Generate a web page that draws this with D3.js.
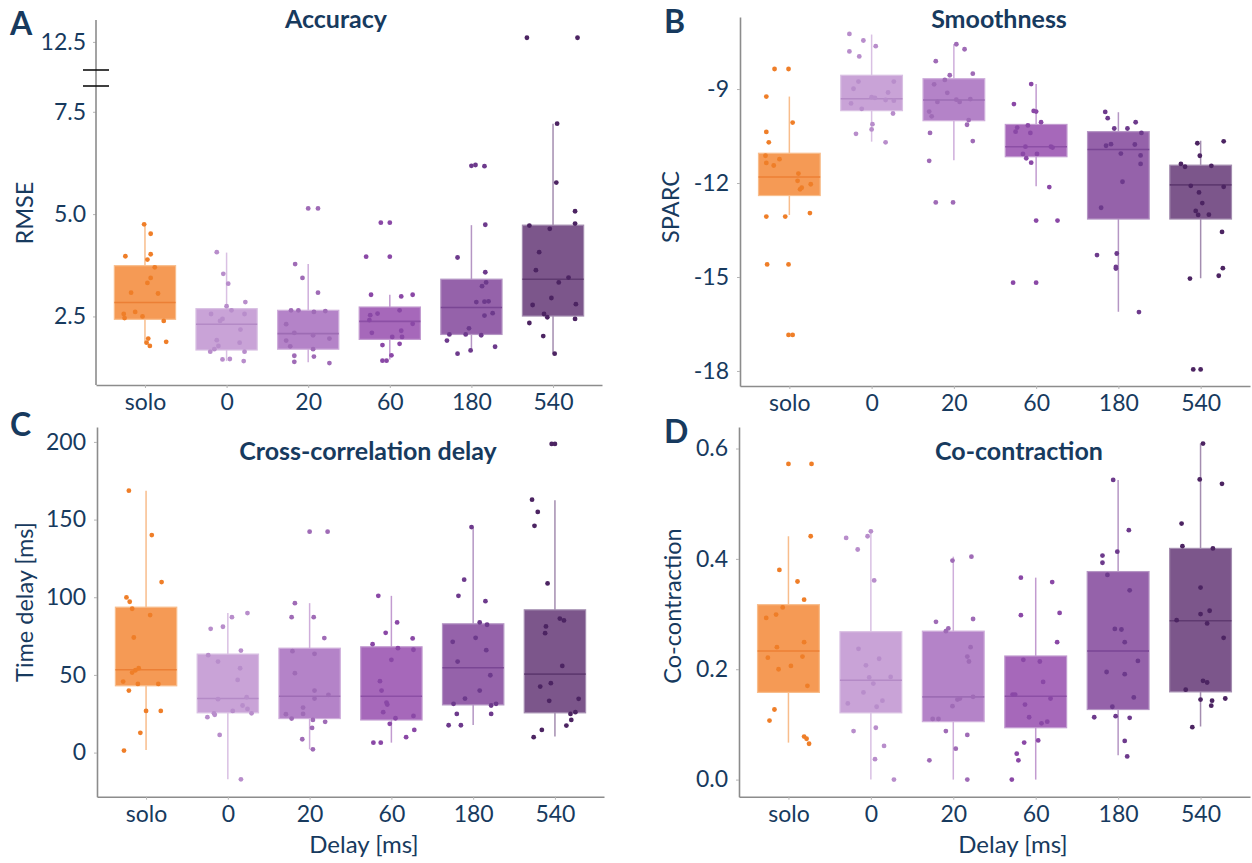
<!DOCTYPE html>
<html>
<head>
<meta charset="utf-8">
<script src="https://cdn.jsdelivr.net/npm/d3@7"></script>
<style>
  body { margin: 0; background: #fff; }
  text { font-family: Lato, "Open Sans", sans-serif; fill: #173a5e; }
</style>
</head>
<body>
<svg id="canvas" width="1252" height="863"></svg>
<script>
const groups = ["solo", "0", "20", "60", "180", "540"];

const boxFill     = ["#f59a55", "#c9a3d7", "#b483c8", "#a668ba", "#9562aa", "#7c568b"];
const boxStroke   = ["#f8bd8c", "#d9c0e3", "#cfaedb", "#c29bd0", "#b596c4", "#a48db0"];
const medianColor = ["#ec7f35", "#b48ac6", "#9d6cb4", "#8c4fa5", "#7a4694", "#5f3a70"];
const pointColor  = ["#ef7e28", "#b88dcb", "#9f6bb6", "#8a48a6", "#6d3a8c", "#4c2462"];

// ---- A: Accuracy (RMSE) ----
const accLo  = [1.84, 1.41, 1.38, 1.45, 1.67, 1.59];
const accQ1  = [2.43, 1.68, 1.70, 1.94, 2.06, 2.51];
const accMed = [2.84, 2.31, 2.08, 2.38, 2.72, 3.41];
const accQ3  = [3.74, 2.69, 2.65, 2.73, 3.41, 4.73];
const accHi  = [4.75, 4.06, 3.78, 3.03, 4.73, 7.21];
const accPts = [
  [4.75,4.52,3.97,4.02,3.89,3.70,3.44,3.32,3.08,3.06,2.61,2.56,2.50,2.46,2.39,1.96,1.86,1.78,1.88],
  [4.07,3.54,3.30,2.75,2.85,2.56,2.65,2.56,2.44,2.39,2.18,1.92,1.78,1.86,1.70,1.64,1.64,1.45,1.46,1.41],
  [5.14,5.14,3.78,3.44,3.08,2.65,2.65,2.61,2.63,2.31,2.10,2.04,1.96,1.91,1.77,1.70,1.54,1.52,1.39,1.36],
  [4.79,4.79,3.96,3.96,3.03,2.99,3.03,2.65,2.57,2.53,2.41,2.32,2.15,2.10,2.00,2.00,1.83,1.80,1.55,1.42,1.42],
  [6.18,6.20,6.17,4.74,3.94,3.58,3.24,3.33,2.85,2.86,2.87,2.52,2.58,2.21,2.06,2.06,2.04,1.91,1.59,1.67,1.76],
  [12.6,12.6,7.21,5.77,5.07,4.72,4.64,4.77,4.07,3.63,3.45,3.33,2.95,2.78,2.80,2.56,2.48,2.44,2.34,2.02,1.59]
];
// horizontal jitter of each point, in category steps
const accJit = [
  [-0.01,0.07,-0.24,0.07,0.03,0.12,0.07,0.03,-0.17,0.16,-0.12,-0.26,-0.03,-0.25,0.23,0.04,0.02,0.06,0.26],
  [-0.12,-0.04,0.02,0,0.23,-0.19,0.06,0.22,-0.05,-0.08,0.17,-0.12,-0.10,0.16,-0.15,-0.20,0.22,-0.05,0.04,0.21],
  [0,0.12,-0.16,-0.07,0.12,-0.21,-0.12,0.07,0.21,-0.27,-0.17,0.06,0.26,-0.27,-0.22,0.06,-0.17,0.07,-0.17,0.26],
  [-0.11,0,-0.29,0,-0.23,0.14,0.28,0.12,-0.15,-0.24,-0.25,0.28,0.14,-0.22,0.03,0.15,0.12,-0.09,0.02,-0.09,-0.04],
  [0,0.05,0.16,0.17,-0.17,0.17,0.13,0.18,0.06,0.16,0.21,0.16,0.26,-0.03,-0.27,-0.07,0.12,-0.30,-0.17,-0.01,0.29],
  [-0.32,0.30,0.05,0.04,0.27,-0.29,-0.04,0.27,-0.17,-0.21,0.19,0.07,-0.02,-0.25,0.28,-0.11,-0.07,0.27,-0.29,-0.12,0.02]
];

// ---- B: Smoothness (SPARC) ----
const smLo  = [-13.02, -10.68, -11.27, -12.10, -16.11, -15.04];
const smQ1  = [-12.40, -9.69, -10.01, -11.16, -13.15, -13.15];
const smMed = [-11.81, -9.31, -9.35, -10.84, -10.93, -12.06];
const smQ3  = [-11.05, -8.56, -8.67, -10.13, -10.36, -11.43];
const smHi  = [-9.24, -7.26, -7.57, -8.84, -9.74, -10.65];
const smPts = [
  [-8.36,-8.36,-9.24,-10.07,-10.37,-10.70,-11.13,-11.36,-11.44,-11.24,-11.70,-11.93,-12.15,-12.20,-12.04,-13.07,-13.07,-12.96,-14.60,-14.60,-16.85,-16.85],
  [-7.24,-7.45,-7.63,-7.80,-7.96,-8.76,-8.99,-8.76,-9.11,-9.26,-9.28,-9.35,-9.37,-9.46,-9.63,-9.78,-10.12,-10.29,-10.43,-10.70],
  [-7.57,-7.73,-8.11,-8.56,-8.71,-8.51,-8.85,-9.12,-9.41,-9.34,-9.41,-9.32,-9.72,-9.87,-9.99,-10.14,-10.40,-10.66,-11.29,-12.62,-12.62],
  [-8.84,-9.48,-9.70,-9.72,-10.06,-10.23,-10.16,-10.36,-10.40,-10.84,-10.84,-10.87,-11.07,-11.07,-11.21,-11.35,-12.13,-13.20,-13.20,-15.18,-15.18],
  [-9.73,-9.93,-10.26,-10.26,-10.06,-10.40,-10.81,-10.76,-10.77,-11.06,-11.12,-11.39,-11.96,-12.79,-14.30,-14.25,-14.68,-14.73,-16.12],
  [-10.67,-10.73,-11.13,-11.39,-11.48,-11.45,-12.12,-12.09,-12.30,-12.64,-12.89,-13.02,-13.01,-13.56,-14.72,-14.96,-15.05,-17.95,-17.95]
];
const smJit = [
  [-0.18,-0.01,-0.28,0.04,-0.28,-0.25,-0.29,-0.28,-0.19,-0.12,0.11,0.10,0.15,0.13,0.26,-0.28,-0.05,0.25,-0.27,-0.01,-0.01,0.04],
  [-0.27,-0.10,0.05,-0.27,-0.15,-0.16,-0.22,0.27,0.20,0,0.04,0.17,0.27,-0.25,-0.12,0.26,0.01,0,-0.19,0.17],
  [0.03,0.13,-0.22,-0.05,-0.11,0.23,-0.24,-0.08,-0.20,0.03,0.07,0.20,-0.30,-0.27,0.18,0.16,-0.29,0.23,-0.30,-0.22,-0.01],
  [-0.06,-0.27,-0.03,0,0.06,-0.23,-0.10,-0.25,-0.07,-0.13,0.18,0.20,0.01,-0.16,-0.12,-0.06,0.16,0,0.26,-0.28,0],
  [-0.16,-0.13,-0.05,0.11,0.21,0.28,-0.15,-0.09,0.20,0.03,0.27,0.27,0.05,-0.21,-0.26,-0.02,-0.03,-0.03,0.25],
  [0.28,-0.04,-0.01,-0.24,-0.19,0.13,0.28,-0.12,-0.02,0.02,-0.06,-0.03,0.10,0.26,0.27,0.22,-0.13,-0.09,0]
];

// ---- C: Cross-correlation delay ----
const tdLo  = [1.7, -17.2, 2.1, 6.4, 17.8, 10.3];
const tdQ1  = [43.0, 25.6, 21.9, 21.0, 30.7, 25.6];
const tdMed = [53.3, 34.8, 36.3, 36.3, 54.6, 50.5];
const tdQ3  = [93.6, 63.4, 67.2, 68.1, 82.9, 91.9];
const tdHi  = [168.6, 89.8, 96.2, 100.9, 145.2, 162.4];
const tdPts = [
  [168.6,140.0,109.8,99.9,97.1,92.6,88.5,74.1,54.3,53.0,51.5,45.7,44.2,44.2,39.9,26.8,26.8,12.7,1.3],
  [89.8,87.2,81.0,79.7,65.7,62.7,58.6,54.3,46.8,34.4,35.7,30.3,28.1,26.8,25.3,25.3,24.3,22.8,11.4,-17.2],
  [142.2,142.2,96.2,87.2,87.2,73.7,65.3,63.6,51.1,39.9,37.2,34.8,29.0,24.7,24.9,21.9,21.0,19.8,15.9,8.6,2.1],
  [100.9,83.8,77.1,73.5,69.8,67.2,66.2,59.7,46.0,39.9,32.2,30.9,26.0,22.1,23.6,18.5,14.6,9.9,6.4,6.4],
  [145.2,111.3,100.9,97.5,83.8,82.3,71.3,73.9,65.9,58.6,49.8,39.9,34.8,31.4,30.3,31.4,24.9,24.9,17.6,17.6],
  [198.7,198.7,162.8,154.9,146.0,108.9,86.3,85.1,81.2,76.9,55.8,44.7,42.5,33.3,34.6,26.0,24.9,21.0,17.4,14.6,9.9]
];
const tdJit = [
  [-0.21,0.07,0.19,-0.24,-0.20,-0.17,0.05,-0.15,-0.09,-0.13,-0.17,-0.28,-0.10,0.15,-0.21,0,0.18,-0.07,-0.27],
  [0.24,0.05,-0.06,-0.21,0.16,-0.24,-0.12,0.15,0.12,-0.12,0.23,0.18,0.24,0.06,0.29,-0.17,-0.16,-0.25,-0.10,0.16],
  [0,0.22,-0.18,-0.22,0.05,0.18,-0.21,0.06,-0.18,0.06,0.23,0.06,-0.08,-0.29,-0.08,-0.22,0.04,0.19,0.03,-0.09,0.04],
  [-0.16,0.07,-0.07,0.26,-0.23,0.08,0.27,0,-0.14,-0.12,-0.06,-0.05,-0.10,0.05,0.27,-0.02,0.28,0.18,-0.22,-0.13],
  [-0.02,-0.11,-0.18,0.15,0.08,0.17,-0.25,0.03,0.16,-0.19,0.21,0.08,-0.10,-0.24,0.22,0.28,-0.20,0.22,-0.30,-0.15],
  [-0.04,0,-0.28,-0.21,-0.25,-0.09,0.06,0.11,-0.11,-0.12,0.09,-0.05,-0.18,-0.07,0.29,0.25,0.19,0.20,0.14,-0.16,-0.26]
];

// ---- D: Co-contraction ----
const ccLo  = [0.067, 0.0, 0.0, 0.0, 0.044, 0.096];
const ccQ1  = [0.158, 0.121, 0.105, 0.094, 0.127, 0.159];
const ccMed = [0.233, 0.180, 0.150, 0.151, 0.233, 0.288];
const ccQ3  = [0.317, 0.268, 0.269, 0.224, 0.377, 0.419];
const ccHi  = [0.441, 0.450, 0.404, 0.366, 0.543, 0.609];
const ccPts = [
  [0.572,0.572,0.441,0.380,0.359,0.326,0.312,0.299,0.293,0.249,0.240,0.221,0.223,0.206,0.200,0.170,0.127,0.107,0.078,0.074,0.065],
  [0.450,0.438,0.441,0.417,0.361,0.237,0.219,0.207,0.185,0.174,0.186,0.158,0.143,0.138,0.132,0.088,0.094,0.061,0.037,0.0],
  [0.397,0.404,0.286,0.274,0.269,0.291,0.240,0.223,0.214,0.150,0.145,0.147,0.133,0.110,0.110,0.088,0.081,0.056,0.035,0.0],
  [0.366,0.358,0.302,0.298,0.249,0.217,0.214,0.177,0.154,0.154,0.147,0.136,0.113,0.102,0.105,0.071,0.067,0.047,0.035,0.0],
  [0.543,0.452,0.406,0.413,0.393,0.371,0.343,0.273,0.272,0.249,0.215,0.195,0.191,0.149,0.132,0.113,0.115,0.112,0.070,0.042],
  [0.609,0.544,0.536,0.464,0.423,0.419,0.348,0.300,0.306,0.289,0.283,0.257,0.179,0.176,0.163,0.145,0.143,0.147,0.134,0.095]
];
const ccJit = [
  [0,0.28,0.27,-0.11,0.11,0.19,-0.07,-0.15,-0.27,0.19,-0.14,-0.25,0.17,0.03,-0.12,0.23,-0.17,-0.23,0.19,0.22,0.25],
  [0,-0.30,-0.04,-0.16,0.04,-0.15,0.10,-0.06,-0.02,0.03,0.24,-0.09,0.14,-0.28,0.07,-0.21,0.06,0.16,0.05,0.28],
  [-0.01,0.22,-0.21,-0.06,-0.09,0.24,0.21,0.17,0.19,0.24,0.05,0.08,-0.01,-0.25,-0.18,-0.09,0.17,0.03,-0.29,0.17],
  [-0.18,0.20,0.29,-0.18,0.26,-0.15,0.05,0.09,-0.28,-0.25,0.18,-0.13,-0.08,0.07,0.14,0.03,-0.14,-0.23,-0.21,-0.29],
  [-0.06,0.13,-0.19,-0.01,-0.19,-0.13,0.14,-0.04,0.04,0.08,0.24,-0.14,0.08,0.19,-0.07,-0.29,-0.03,0.14,0.08,0.11],
  [0.03,-0.01,0.26,-0.23,-0.22,0.15,0,0,0.11,-0.29,0.08,0.28,0.03,0.08,-0.18,0,0.14,0.30,0.13,-0.10]
];

const svg = d3.select("#canvas");

function styleAxis(g) {
  g.select(".domain").attr("stroke", "#8c8c8c").attr("stroke-width", 1.6);
  g.selectAll(".tick line").attr("stroke", "#b5b5b5");
  g.selectAll(".tick text").style("font-size", "23px").attr("fill", "#173a5e");
}

function drawPanel(p) {
  const g = svg.append("g");
  const x = d3.scalePoint().domain(groups).range([p.left, p.right]).padding(0.6);
  const step = x.step();
  const bw = step * 0.75;
  const y = p.y;

  const rows = groups.map((k, i) => ({
    k, i, lo: p.lo[i], q1: p.q1[i], med: p.med[i], q3: p.q3[i], hi: p.hi[i]
  }));

  // whiskers
  g.selectAll(".whisker").data(rows).enter().append("line")
    .attr("x1", d => x(d.k)).attr("x2", d => x(d.k))
    .attr("y1", d => y(d.lo)).attr("y2", d => y(d.hi))
    .attr("stroke", d => boxStroke[d.i]).attr("stroke-width", 1.5);

  // boxes
  g.selectAll(".box").data(rows).enter().append("rect")
    .attr("x", d => x(d.k) - bw / 2).attr("width", bw)
    .attr("y", d => y(d.q3)).attr("height", d => y(d.q1) - y(d.q3))
    .attr("fill", d => boxFill[d.i])
    .attr("stroke", d => boxStroke[d.i]).attr("stroke-width", 1.2);

  g.selectAll(".median").data(rows).enter().append("line")
    .attr("x1", d => x(d.k) - bw / 2).attr("x2", d => x(d.k) + bw / 2)
    .attr("y1", d => y(d.med)).attr("y2", d => y(d.med))
    .attr("stroke", d => medianColor[d.i]).attr("stroke-width", 1.6);

  // jittered points
  const pts = [];
  p.pts.forEach((arr, i) => arr.forEach((v, j) => pts.push({ i, v, jit: p.jit[i][j] })));
  g.selectAll(".pt").data(pts).enter().append("circle")
    .attr("cx", d => x(groups[d.i]) + d.jit * step)
    .attr("cy", d => y(d.v))
    .attr("r", 2.4)
    .attr("fill", d => pointColor[d.i]);

  // x axis
  const xa = g.append("g").attr("transform", `translate(0,${p.bottom})`)
    .call(d3.axisBottom(x).tickSize(3).tickSizeOuter(0).tickPadding(6));
  styleAxis(xa);

  // y axis
  p.yAxis(g);

  // labels
  g.append("text").attr("x", p.titleX).attr("y", p.titleY)
    .attr("text-anchor", "middle").style("font-size", "25px").style("font-weight", 700)
    .text(p.title);
  g.append("text").attr("x", p.letterX).attr("y", p.letterY)
    .style("font-size", "32px").style("font-weight", 700).attr("fill", "#0f3456")
    .text(p.letter);
  g.append("text")
    .attr("transform", `translate(${p.ylabX},${p.ylabY}) rotate(-90)`)
    .attr("text-anchor", "middle").style("font-size", "23.5px")
    .text(p.ylab);
  if (p.xlab) {
    g.append("text").attr("x", p.xlabX).attr("y", 853)
      .attr("text-anchor", "middle").style("font-size", "24px")
      .text(p.xlab);
  }
}

const fmt1 = d3.format(".1f");
const plain = d => String(d);

// A: broken y axis
const accLow = d3.scaleLinear().domain([0.825, 8.13]).range([385, 86]);
const accHigh = d3.scaleLinear().domain([11.82, 13.03]).range([70, 20]);
drawPanel({
  left: 96, right: 602, bottom: 385,
  y: v => v > 10 ? accHigh(v) : accLow(v),
  lo: accLo, q1: accQ1, med: accMed, q3: accQ3, hi: accHi, pts: accPts, jit: accJit,
  title: "Accuracy", titleX: 336, titleY: 28, letter: "A", letterX: 10, letterY: 35,
  ylab: "RMSE", ylabX: 33, ylabY: 213,
  yAxis: g => {
    const a1 = g.append("g").attr("transform", "translate(96,0)")
      .call(d3.axisLeft(accLow).tickValues([2.5, 5, 7.5]).tickFormat(fmt1).tickSize(3).tickPadding(7));
    const a2 = g.append("g").attr("transform", "translate(96,0)")
      .call(d3.axisLeft(accHigh).tickValues([12.5]).tickFormat(fmt1).tickSize(3).tickPadding(7));
    styleAxis(a1); styleAxis(a2);
    a1.select(".domain").remove(); a2.select(".domain").remove();
    g.append("line").attr("x1", 96).attr("x2", 96).attr("y1", 20).attr("y2", 385)
      .attr("stroke", "#8c8c8c").attr("stroke-width", 1.6);
    [accHigh(11.82), accLow(8.13)].forEach(yy => {
      g.append("line").attr("x1", 83).attr("x2", 109).attr("y1", yy).attr("y2", yy)
        .attr("stroke", "#111").attr("stroke-width", 1.6);
    });
  }
});

const smY = d3.scaleLinear().domain([-18.48, -6.70]).range([386, 17]);
drawPanel({
  left: 740, right: 1250, bottom: 386, y: smY,
  lo: smLo, q1: smQ1, med: smMed, q3: smQ3, hi: smHi, pts: smPts, jit: smJit,
  title: "Smoothness", titleX: 999, titleY: 28, letter: "B", letterX: 664, letterY: 33,
  ylab: "SPARC", ylabX: 679, ylabY: 207,
  yAxis: g => {
    const a = g.append("g").attr("transform", "translate(740,0)")
      .call(d3.axisLeft(smY).tickValues([-18, -15, -12, -9]).tickFormat(plain).tickSize(3).tickSizeOuter(0).tickPadding(8));
    styleAxis(a);
  }
});

const tdY = d3.scaleLinear().domain([-28.4, 209.6]).range([796.7, 427]);
drawPanel({
  left: 97, right: 604, bottom: 796.7, y: tdY,
  lo: tdLo, q1: tdQ1, med: tdMed, q3: tdQ3, hi: tdHi, pts: tdPts, jit: tdJit,
  title: "Cross-correlation delay", titleX: 368, titleY: 460, letter: "C", letterX: 10, letterY: 436,
  ylab: "Time delay [ms]", ylabX: 33, ylabY: 602, xlab: "Delay [ms]", xlabX: 364,
  yAxis: g => {
    const a = g.append("g").attr("transform", "translate(97,0)")
      .call(d3.axisLeft(tdY).tickValues([0, 50, 100, 150, 200]).tickFormat(plain).tickSize(3).tickSizeOuter(0).tickPadding(8));
    styleAxis(a);
  }
});

const ccY = d3.scaleLinear().domain([-0.031, 0.639]).range([796.7, 427]);
drawPanel({
  left: 739, right: 1250, bottom: 796.7, y: ccY,
  lo: ccLo, q1: ccQ1, med: ccMed, q3: ccQ3, hi: ccHi, pts: ccPts, jit: ccJit,
  title: "Co-contraction", titleX: 1019, titleY: 460, letter: "D", letterX: 664, letterY: 443,
  ylab: "Co-contraction", ylabX: 681, ylabY: 606, xlab: "Delay [ms]", xlabX: 1013,
  yAxis: g => {
    const a = g.append("g").attr("transform", "translate(739,0)")
      .call(d3.axisLeft(ccY).tickValues([0, 0.2, 0.4, 0.6]).tickFormat(fmt1).tickSize(3).tickSizeOuter(0).tickPadding(8));
    styleAxis(a);
  }
});
</script>
</body>
</html>
